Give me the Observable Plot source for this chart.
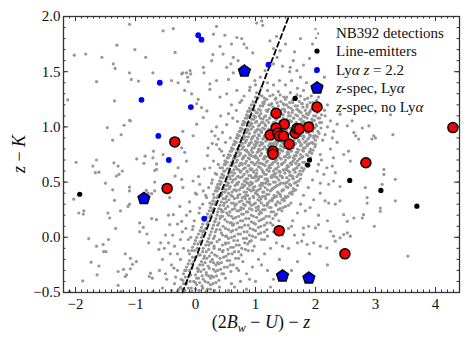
<!DOCTYPE html>
<html><head><meta charset="utf-8">
<script src="https://cdn.jsdelivr.net/npm/d3@7"></script>
<script src="https://cdn.jsdelivr.net/npm/@observablehq/plot@0.6"></script>
<style>body{margin:0;background:#fff}svg{display:block}</style>
</head><body><div id="chart"></div>
<script>
// x tick values and labels
const xTicks = [-2,-1,0,1,2,3,4];
const yTicks = [-0.5,0,0.5,1.0,1.5,2.0];
// dashed selection line
const cutX = [-0.218,1.555];
const cutY = [-0.5,2.0];
// Line-emitters (black)
const lineEmitters = [[-1.93,0.39],[1.66,1.258],[1.90,0.70],[1.87,0.655],[2.57,0.515],[3.09,0.425],[3.69,0.282]];
// Lya z=2.2 (blue)
const lyaZ22 = [[0.045,1.83],[0.10,1.79],[-0.595,1.40],[1.216,1.564],[-0.90,1.245],[-0.077,1.18],[-0.62,0.918],[-0.445,0.70],[0.145,0.17]];
// z-spec, Lya (blue pentagons)
const zspecLya = [[0.815,1.505],[-0.86,0.352],[1.45,-0.35],[1.89,-0.37]];
// z-spec, no Lya (red)
const zspecNoLya = [[-0.345,0.864],[-0.473,0.443],[1.344,1.124],[1.48,1.025],[1.344,0.99],[1.244,0.927],[1.37,0.945],[1.40,0.918],[1.467,0.918],[1.662,0.943],[1.69,0.985],[1.73,0.98],[1.885,1.0],[1.56,0.843],[1.29,0.782],[1.29,0.752],[4.29,0.994],[2.84,0.675],[1.395,0.06],[2.49,-0.15]];
// NB392 detections (grey)
const nb392 = [
[-1.10,1.93],[-1.31,1.74],[-1.01,1.70],[-2.02,1.65],[-1.83,1.66],[-1.56,1.63],[-0.83,1.63],[-1.37,1.57],[-1.34,1.53],[-1.10,1.49],[-0.71,1.49],[-1.07,1.43],[-0.95,1.415],[-1.65,1.41],[-2.13,1.245],[-1.35,1.236],[-1.10,1.06],
[-0.54,1.87],[-0.37,1.89],[-0.34,1.675],[-0.23,1.48],[-0.40,1.42],[-0.29,1.40],[-0.15,1.49],[-0.08,1.48],[-0.13,1.45],[-0.12,1.41],[-0.18,1.33],[0.045,1.25],[0.02,1.21],[0.10,1.175],[0.19,1.145],[0.24,1.34],[0.13,1.54],[0.14,1.49],[0.27,1.60],[0.29,1.655],[0.30,1.84],[0.35,1.91],[0.41,1.73],[0.46,1.66],[0.49,1.83],[0.60,1.75],[0.69,1.81],[0.77,1.80],[0.81,1.75],[0.855,1.715],[0.955,1.67],[1.02,1.94],[1.105,1.96],[1.12,1.92],[0.63,1.63],[0.59,1.57],[0.71,1.60],[0.52,1.54],[0.63,1.49],[0.55,1.43],[0.35,1.42],[0.24,1.39],[-0.065,1.30],[0.41,1.27],[0.52,1.30],[0.69,1.33],[0.77,1.24],[0.91,1.36],[0.99,1.42],[1.08,1.45],[1.16,1.51],[1.30,1.57],[1.36,1.63],[1.41,1.69],[1.30,1.71],[1.24,1.78],[1.63,1.60],[1.58,1.54],[1.69,1.51],[-0.21,1.49],[-0.09,1.51],
[2.47,0.75],[2.58,0.69],[2.67,0.92],[2.78,0.99],[2.89,1.01],[2.97,0.92],[2.94,0.89],[3.0,0.90],[2.72,0.89],[3.25,1.11],[3.29,0.93],[3.14,0.615],[3.14,0.57],[3.33,0.525],[3.11,0.48],[2.83,0.45],[2.86,0.36],[2.86,0.31],[3.08,0.265],[3.08,0.235],[3.33,0.33],[2.78,0.175],[2.80,0.205],[2.47,0.205],[2.41,0.33],[2.33,0.30],[2.22,0.31],[2.16,0.33],[2.08,0.40],[1.97,0.34],[1.91,0.27],[1.83,0.24],[2.53,0.145],[2.64,0.175],[2.55,0.78],[2.28,0.645],[2.19,0.63],[2.14,0.57],[2.33,0.585],[2.30,0.51],[2.22,0.48],[2.41,0.46],[2.08,0.49],[2.05,0.66],[2.08,0.75],[2.25,0.80],[2.36,0.86],[2.28,0.90],[2.16,0.93],[2.30,0.96],[2.36,1.025],[2.53,1.01],[2.61,1.055],[2.64,0.95],[2.25,1.055],[2.16,1.10],[2.41,1.115],[1.91,0.78],[2.0,0.84],[1.97,0.92],
[1.80,0.085],[1.885,0.10],[2.0,0.085],[2.05,0.115],[2.25,0.055],[2.30,0.01],[2.41,-0.005],[2.47,0.025],[2.53,0.04],[2.58,0.01],[2.33,-0.035],[2.19,-0.095],[2.08,-0.08],[1.97,-0.05],[1.86,-0.065],[1.77,-0.035],[2.98,0.10],[3.54,-0.17],[1.80,0.025],
[-1.47,0.994],[-1.38,0.88],[-1.24,0.93],[-1.19,1.015],[-1.085,1.055],[-1.99,0.68],[-1.65,0.70],[-1.71,0.645],[-1.67,0.585],[-1.61,0.59],[-1.36,0.675],[-1.29,0.645],[-1.22,0.60],[-1.275,0.57],[-1.32,0.555],[-1.50,0.49],[-0.98,0.71],[-0.86,0.67],[-0.84,0.735],[-0.71,0.72],[-0.68,0.605],[-0.65,0.665],[-0.68,0.50],[-1.10,0.455],[-1.10,0.42],[-1.38,0.43],[-1.35,0.335],[-2.03,0.345],[-1.945,0.22],[-1.86,0.24],[-1.87,0.21],[-1.46,0.22],[-1.43,0.175],[-1.25,0.24],[-1.125,0.28],[-1.10,0.30],[-0.93,0.13],[-0.73,0.17],[-0.82,0.425],[-0.79,0.40],[-0.73,0.395],[-1.33,0.08],
[-1.78,-0.012],[-1.65,-0.08],[-1.54,-0.065],[-1.53,-0.13],[-1.49,-0.13],[-1.45,-0.02],[-1.74,-0.225],[-1.61,-0.26],[-1.64,-0.34],[-1.88,-0.395],[-1.29,-0.31],[-1.15,-0.34],[-1.17,-0.355],[-1.20,-0.29],[-1.085,-0.285],[-1.05,-0.245],[-0.985,-0.22],[-1.17,-0.15],[-1.085,-0.19],[-1.29,-0.435],[-1.24,-0.49],[-0.93,0.05],[-0.87,0.09],[-0.81,0.03],[-0.78,-0.05],[-0.75,-0.325],[-0.72,-0.37],[-0.77,-0.355],[-0.71,-0.49],[-2.1,-0.49],[-0.61,-0.11],
[-0.21,0.96],[-0.04,0.92],[0.02,1.025],[0.13,1.085],[0.27,0.96],[0.325,0.92],[0.38,0.89],[0.35,0.84],[0.435,0.78],[0.21,0.81],[-0.23,0.81],[-0.18,0.77],[-0.15,0.69],[-0.29,0.63],[-0.34,0.555],[-0.23,0.525],[-0.21,0.45],[-0.04,0.51],[0.07,0.48],[0.02,0.39],[0.13,0.42],[0.185,0.36],[0.24,0.31],[0.07,0.265],[-0.09,0.235],[-0.26,0.28],[-0.43,0.36],[-0.68,0.42],[-0.65,0.615],[-0.54,0.75],[-0.70,0.78],[-0.37,0.205],[-0.23,0.145],[-0.04,0.10],[-0.43,0.115],[-0.65,0.16],[0.27,0.49],[0.35,0.57],[0.41,0.63],[0.49,0.69],[0.30,0.69],[0.24,0.63],[0.38,0.45],[0.435,0.39],[0.30,0.235],[0.325,0.145],[0.46,0.235],
[-0.55,-0.2],[-0.48,-0.38],[-0.42,-0.15],[-0.35,-0.08],[-0.33,-0.36],[-0.28,-0.47],[-0.25,-0.02],[-0.22,0.05],[-0.18,-0.3],[-0.15,-0.42],[-0.4,-0.48],[-0.6,-0.3],[-0.5,0.02],[-0.58,-0.05],[-0.45,0.2],[-0.3,-0.15],[-0.52,-0.1],[-0.36,-0.28],[-0.24,-0.38],[-0.12,-0.12],[-0.08,0.0],[-0.16,0.08],
[0.6,-0.42],[0.72,-0.3],[0.9,-0.38],[1.1,-0.25],[1.3,-0.38],[1.6,-0.3],[1.25,-0.45],[0.95,-0.12],[1.15,-0.02],[1.3,0.05],[1.45,-0.08],[1.6,0.1],[1.7,-0.05],[2.2,-0.25],
[1.02,1.31],[1.11,1.28],[1.2,1.33],[1.29,1.29],[1.38,1.32],[1.47,1.27],[1.58,1.31],[1.69,1.29],[1.8,1.33],[1.93,1.28],
[0.96,1.23],[1.04,1.26],[1.12,1.22],[1.19,1.25],[1.27,1.21],[1.34,1.26],[1.42,1.23],[1.5,1.25],[1.57,1.22],[1.65,1.26],[1.73,1.23],[1.82,1.25],[1.91,1.22],[2.02,1.24],
[0.9,1.17],[0.97,1.2],[1.05,1.16],[1.12,1.19],[1.18,1.15],[1.25,1.2],[1.31,1.17],[1.38,1.19],[1.45,1.16],[1.52,1.2],[1.59,1.17],[1.66,1.19],[1.72,1.15],[1.79,1.18],[1.86,1.2],[1.93,1.16],[2.01,1.19],[2.1,1.17],
[0.85,1.11],[0.91,1.14],[0.97,1.1],[1.03,1.13],[1.09,1.12],[1.15,1.09],[1.2,1.14],[1.26,1.11],[1.32,1.13],[1.37,1.09],[1.43,1.12],[1.49,1.14],[1.55,1.1],[1.61,1.13],[1.67,1.11],[1.73,1.14],[1.79,1.1],[1.85,1.12],[1.91,1.14],[1.97,1.1],[2.03,1.13],[2.1,1.11],
[0.8,1.05],[0.86,1.08],[0.91,1.04],[0.97,1.07],[1.02,1.05],[1.08,1.08],[1.13,1.04],[1.19,1.06],[1.24,1.08],[1.3,1.04],[1.35,1.07],[1.41,1.05],[1.46,1.08],[1.52,1.04],[1.57,1.06],[1.63,1.08],[1.68,1.04],[1.74,1.07],[1.8,1.05],[1.86,1.08],[1.92,1.04],[1.98,1.06],[2.04,1.08],[2.1,1.04],
[0.75,0.99],[0.8,1.02],[0.86,0.98],[0.91,1.01],[0.96,1.0],[1.02,0.97],[1.07,1.02],[1.12,0.99],[1.17,1.01],[1.22,0.98],[1.28,1.02],[1.33,0.99],[1.38,1.01],[1.43,0.97],[1.49,1.0],[1.54,1.02],[1.59,0.98],[1.64,1.01],[1.7,0.99],[1.75,1.02],[1.8,0.98],[1.86,1.0],[1.91,1.02],[1.96,0.98],[2.02,1.01],[2.09,0.99],
[0.7,0.93],[0.75,0.96],[0.8,0.92],[0.85,0.95],[0.9,0.94],[0.95,0.91],[1.0,0.96],[1.05,0.93],[1.1,0.95],[1.15,0.92],[1.2,0.96],[1.25,0.94],[1.3,0.91],[1.35,0.95],[1.4,0.93],[1.45,0.96],[1.5,0.92],[1.55,0.94],[1.6,0.96],[1.65,0.91],[1.7,0.94],[1.75,0.96],[1.8,0.92],[1.85,0.95],[1.9,0.93],[1.95,0.96],[2.0,0.92],[2.06,0.94],
[0.65,0.87],[0.7,0.9],[0.75,0.86],[0.8,0.89],[0.85,0.88],[0.9,0.85],[0.95,0.9],[1.0,0.87],[1.04,0.89],[1.09,0.86],[1.14,0.9],[1.19,0.88],[1.24,0.85],[1.29,0.89],[1.34,0.87],[1.39,0.9],[1.44,0.86],[1.49,0.88],[1.54,0.9],[1.59,0.85],[1.64,0.88],[1.69,0.9],[1.74,0.86],[1.79,0.89],[1.84,0.87],[1.89,0.9],[1.94,0.86],[2.0,0.88],
[0.6,0.81],[0.65,0.84],[0.7,0.8],[0.75,0.83],[0.8,0.82],[0.85,0.79],[0.9,0.84],[0.95,0.81],[1.0,0.83],[1.05,0.8],[1.1,0.84],[1.15,0.82],[1.2,0.79],[1.25,0.83],[1.3,0.81],[1.35,0.84],[1.4,0.8],[1.45,0.82],[1.5,0.84],[1.55,0.79],[1.6,0.82],[1.65,0.84],[1.7,0.8],[1.75,0.83],[1.8,0.81],[1.86,0.84],[1.92,0.8],[1.99,0.82],
[0.55,0.75],[0.6,0.78],[0.65,0.74],[0.7,0.77],[0.75,0.76],[0.8,0.73],[0.85,0.78],[0.9,0.75],[0.95,0.77],[1.0,0.74],[1.05,0.78],[1.1,0.76],[1.15,0.73],[1.2,0.77],[1.25,0.75],[1.3,0.78],[1.35,0.74],[1.4,0.76],[1.45,0.78],[1.5,0.73],[1.55,0.76],[1.6,0.78],[1.65,0.74],[1.7,0.77],[1.75,0.75],[1.8,0.78],[1.87,0.74],[1.94,0.76],
[0.5,0.69],[0.55,0.72],[0.6,0.68],[0.65,0.71],[0.7,0.7],[0.75,0.67],[0.8,0.72],[0.85,0.69],[0.9,0.71],[0.95,0.68],[1.0,0.72],[1.05,0.7],[1.1,0.67],[1.15,0.71],[1.2,0.69],[1.25,0.72],[1.3,0.68],[1.35,0.7],[1.4,0.72],[1.45,0.67],[1.5,0.7],[1.55,0.72],[1.6,0.68],[1.65,0.71],[1.7,0.69],[1.76,0.72],[1.82,0.68],[1.89,0.7],
[0.45,0.63],[0.5,0.66],[0.56,0.62],[0.61,0.65],[0.67,0.64],[0.72,0.61],[0.78,0.66],[0.83,0.63],[0.89,0.65],[0.94,0.62],[1.0,0.66],[1.05,0.64],[1.11,0.61],[1.16,0.65],[1.22,0.63],[1.27,0.66],[1.33,0.62],[1.38,0.64],[1.44,0.66],[1.49,0.61],[1.55,0.64],[1.6,0.66],[1.66,0.62],[1.71,0.65],[1.77,0.63],[1.84,0.66],
[0.44,0.57],[0.49,0.6],[0.55,0.56],[0.6,0.59],[0.65,0.58],[0.7,0.55],[0.76,0.6],[0.81,0.57],[0.86,0.59],[0.92,0.56],[0.97,0.6],[1.02,0.58],[1.07,0.55],[1.13,0.59],[1.18,0.57],[1.23,0.6],[1.28,0.56],[1.34,0.58],[1.39,0.6],[1.44,0.55],[1.49,0.58],[1.55,0.6],[1.6,0.56],[1.66,0.59],[1.72,0.57],[1.79,0.6],
[0.4,0.51],[0.46,0.54],[0.52,0.5],[0.58,0.53],[0.63,0.52],[0.69,0.49],[0.75,0.54],[0.81,0.51],[0.87,0.53],[0.92,0.5],[0.98,0.54],[1.04,0.52],[1.1,0.49],[1.16,0.53],[1.21,0.51],[1.27,0.54],[1.33,0.5],[1.39,0.52],[1.45,0.54],[1.5,0.49],[1.56,0.52],[1.62,0.54],[1.68,0.5],[1.75,0.53],
[0.35,0.45],[0.41,0.48],[0.47,0.44],[0.53,0.47],[0.58,0.46],[0.64,0.43],[0.7,0.48],[0.76,0.45],[0.82,0.47],[0.87,0.44],[0.93,0.48],[0.99,0.46],[1.05,0.43],[1.11,0.47],[1.16,0.45],[1.22,0.48],[1.28,0.44],[1.34,0.46],[1.4,0.48],[1.45,0.43],[1.51,0.46],[1.57,0.48],[1.63,0.44],[1.7,0.47],
[0.3,0.39],[0.36,0.42],[0.43,0.38],[0.49,0.41],[0.55,0.4],[0.62,0.37],[0.68,0.42],[0.74,0.39],[0.81,0.41],[0.87,0.38],[0.93,0.42],[1.0,0.4],[1.06,0.37],[1.12,0.41],[1.19,0.39],[1.25,0.42],[1.31,0.38],[1.38,0.4],[1.44,0.42],[1.5,0.37],[1.57,0.4],[1.64,0.42],
[0.29,0.33],[0.36,0.36],[0.43,0.32],[0.5,0.35],[0.56,0.34],[0.63,0.31],[0.7,0.36],[0.77,0.33],[0.83,0.35],[0.9,0.32],[0.97,0.36],[1.04,0.34],[1.1,0.31],[1.17,0.35],[1.24,0.33],[1.31,0.36],[1.37,0.32],[1.44,0.34],[1.51,0.36],[1.59,0.31],
[0.25,0.27],[0.32,0.3],[0.39,0.26],[0.47,0.29],[0.54,0.28],[0.61,0.25],[0.68,0.3],[0.76,0.27],[0.83,0.29],[0.9,0.26],[0.97,0.3],[1.05,0.28],[1.12,0.25],[1.19,0.29],[1.26,0.27],[1.34,0.3],[1.41,0.26],[1.5,0.28],
[0.2,0.21],[0.28,0.24],[0.36,0.2],[0.44,0.23],[0.52,0.22],[0.6,0.19],[0.69,0.24],[0.77,0.21],[0.85,0.23],[0.93,0.2],[1.01,0.24],[1.1,0.22],[1.18,0.19],[1.26,0.23],[1.35,0.21],[1.44,0.24],
[0.15,0.15],[0.24,0.18],[0.32,0.14],[0.41,0.17],[0.49,0.16],[0.58,0.13],[0.67,0.18],[0.75,0.15],[0.84,0.17],[0.93,0.14],[1.02,0.18],[1.1,0.16],[1.19,0.13],[1.29,0.17],[1.39,0.15],
[0.1,0.09],[0.19,0.12],[0.28,0.08],[0.37,0.11],[0.46,0.1],[0.55,0.07],[0.64,0.12],[0.73,0.09],[0.82,0.11],[0.91,0.08],[1.0,0.12],[1.09,0.1],[1.19,0.07],[1.29,0.11],
[0.05,0.03],[0.14,0.06],[0.24,0.02],[0.33,0.05],[0.43,0.04],[0.52,0.01],[0.62,0.06],[0.71,0.03],[0.81,0.05],[0.9,0.02],[1.0,0.06],[1.09,0.04],[1.2,0.01],
[0.0,-0.03],[0.1,0.0],[0.2,-0.04],[0.3,-0.01],[0.4,-0.02],[0.5,-0.05],[0.6,0.0],[0.7,-0.03],[0.8,-0.01],[0.9,-0.04],[1.0,0.0],[1.1,-0.02],
[-0.05,-0.09],[0.04,-0.06],[0.13,-0.1],[0.22,-0.07],[0.31,-0.08],[0.4,-0.11],[0.5,-0.06],[0.59,-0.09],[0.68,-0.07],[0.77,-0.1],[0.87,-0.06],[0.98,-0.08],
[-0.1,-0.15],[-0.01,-0.12],[0.08,-0.16],[0.18,-0.13],[0.27,-0.14],[0.36,-0.17],[0.46,-0.12],[0.55,-0.15],[0.65,-0.13],[0.76,-0.16],[0.88,-0.12],
[-0.1,-0.21],[0.0,-0.18],[0.1,-0.22],[0.19,-0.19],[0.28,-0.2],[0.37,-0.23],[0.47,-0.18],[0.57,-0.21],[0.67,-0.19],[0.79,-0.22],
[-0.15,-0.27],[-0.06,-0.24],[0.03,-0.28],[0.12,-0.25],[0.21,-0.26],[0.3,-0.29],[0.39,-0.24],[0.48,-0.27],[0.58,-0.25],[0.69,-0.28],
[-0.2,-0.33],[-0.1,-0.3],[0.0,-0.34],[0.09,-0.31],[0.18,-0.32],[0.27,-0.35],[0.37,-0.3],[0.47,-0.33],[0.59,-0.31],
[-0.21,-0.39],[-0.12,-0.36],[-0.03,-0.4],[0.05,-0.37],[0.13,-0.38],[0.21,-0.41],[0.3,-0.36],[0.39,-0.39],[0.5,-0.37],
[-0.25,-0.45],[-0.16,-0.42],[-0.07,-0.46],[0.02,-0.43],[0.11,-0.44],[0.2,-0.47],[0.29,-0.42],[0.4,-0.45],
[-0.3,-0.49],[-0.18,-0.48],[-0.06,-0.49],[0.06,-0.48],[0.18,-0.49],[0.32,-0.48],
[0.93,1.03],[1.08,0.97],[1.22,1.04],[1.36,0.96],[1.51,1.03],[1.66,0.97],[1.81,1.04],
[0.88,0.91],[1.02,0.85],[1.17,0.92],[1.31,0.85],[1.46,0.91],[1.61,0.86],[1.76,0.92],[1.9,0.85],
[0.83,0.79],[0.97,0.73],[1.12,0.8],[1.27,0.73],[1.42,0.79],[1.57,0.73],[1.72,0.79],
[0.77,0.67],[0.92,0.61],[1.07,0.67],[1.22,0.6],[1.37,0.67],[1.52,0.61],[1.67,0.67],
[0.72,0.55],[0.87,0.49],[1.02,0.55],[1.17,0.49],[1.32,0.55],[1.47,0.49],[1.62,0.55],
[0.67,0.43],[0.82,0.37],[0.97,0.43],[1.12,0.37],[1.27,0.43],[1.42,0.37],
[0.6,0.31],[0.75,0.25],[0.9,0.31],[1.05,0.25],[1.2,0.31],
[0.98,1.15],[1.14,1.21],[1.3,1.15],[1.46,1.21],[1.62,1.15],[1.78,1.21],
[0.45,0.19],[0.6,0.13],[0.35,0.07],[0.5,0.01],[0.25,-0.05],[0.4,-0.11],[0.15,-0.17],[0.3,-0.23],[0.05,-0.29],[0.22,-0.35],[0.0,-0.41],[0.12,-0.46],
[0.45,0.95],[0.52,1.02],[0.58,0.9],[0.62,1.08],[0.5,0.86],[0.4,0.8],[0.47,0.74],[0.38,0.66],[0.33,0.58],[0.28,0.52],[0.22,0.45],[0.17,0.38],[0.12,0.3],[0.06,0.22],[-0.02,0.15],[0.68,1.15],[0.74,1.22],[0.81,1.28],[0.6,1.2],[0.55,1.12],[0.7,1.05],[0.12,0.05],[-0.05,0.07],[-0.12,-0.02],[-0.2,-0.1],[-0.25,-0.2],[-0.3,-0.3],[-0.35,-0.42],[-0.4,-0.25],[-0.45,-0.05],[-0.5,-0.33],[-0.55,-0.46],[-0.38,0.02],[-0.3,0.12],[-0.15,0.2],[-0.1,0.32],[0.0,0.4],[0.05,0.55],[0.15,0.62],[0.2,0.74],[0.28,0.85],[0.35,1.0],[0.42,1.1],
[2.15,1.15],[2.2,1.0],[2.12,0.88],[2.1,0.7],[2.03,0.6],[1.95,0.52],[1.88,0.45],[1.8,0.38],[1.75,0.3],[1.7,0.22],[1.62,0.15],[1.55,0.08],[1.45,0.02],[1.35,-0.05],[1.25,-0.1],[1.15,-0.15],[1.05,-0.2],[0.95,-0.27],[0.85,-0.33],[0.75,-0.4],[0.65,-0.45],[0.55,-0.48],[1.65,0.02],[1.55,-0.1],[1.4,-0.2],[1.2,-0.3],[1.0,-0.4],[0.85,-0.47],[1.7,-0.22],[1.9,-0.15],[2.05,0.2],[2.2,0.15],[2.3,0.72],[2.2,1.2],[2.05,1.27],[1.95,1.35],[1.85,1.4],[2.1,1.38],[1.75,1.45],[1.6,1.42],[1.5,1.38],[1.4,1.42],[1.3,1.38],[1.2,1.4],[1.1,1.36],[1.0,1.38],[0.9,1.33],[1.7,1.35],[1.57,1.5],[1.45,1.55],[1.8,1.56],[1.9,1.62],[1.65,1.68],[1.5,1.75],[1.35,1.82],[1.75,1.8],[2.0,1.5],[2.15,1.45],[1.95,1.75],
[1.0,1.27],[1.07,1.29],[1.15,1.26],[1.24,1.28],[1.33,1.25],[1.41,1.29],[1.52,1.27],[1.62,1.24],[1.75,1.28],[1.87,1.26],
[0.93,1.2],[1.0,1.22],[1.08,1.19],[1.15,1.23],[1.22,1.2],[1.29,1.18],[1.36,1.22],[1.48,1.2],[1.55,1.18],[1.62,1.22],[1.7,1.19],[1.77,1.21],[1.86,1.18],[1.96,1.22],[2.06,1.2],
[0.87,1.14],[0.94,1.16],[1.01,1.13],[1.08,1.15],[1.22,1.16],[1.28,1.13],[1.34,1.15],[1.41,1.14],[1.48,1.16],[1.55,1.13],[1.69,1.16],[1.76,1.13],[1.83,1.15],[1.9,1.13],[1.97,1.16],[2.05,1.14],
[0.83,1.08],[0.88,1.1],[0.94,1.07],[1.0,1.09],[1.06,1.1],[1.12,1.07],[1.17,1.1],[1.23,1.08],[1.29,1.1],[1.34,1.07],[1.4,1.09],[1.46,1.11],[1.52,1.07],[1.58,1.1],[1.64,1.08],[1.7,1.1],[1.76,1.07],[1.82,1.09],[1.88,1.11],[1.94,1.07],[2.0,1.1],[2.07,1.08],
[0.78,1.02],[0.83,1.04],[0.89,1.01],[0.94,1.03],[1.0,1.04],[1.05,1.01],[1.1,1.04],[1.16,1.02],[1.27,1.01],[1.32,1.04],[1.38,1.02],[1.44,1.04],[1.49,1.01],[1.55,1.03],[1.6,1.05],[1.71,1.02],[1.77,1.04],[1.83,1.01],[1.89,1.03],[1.95,1.05],[2.01,1.02],[2.07,1.04],
[0.73,0.96],[0.78,0.98],[0.83,0.95],[0.88,0.97],[0.93,0.98],[0.99,0.95],[1.04,0.98],[1.1,0.96],[1.15,0.98],[1.2,0.95],[1.25,0.97],[1.31,0.99],[1.41,0.98],[1.46,0.95],[1.52,0.97],[1.57,0.99],[1.62,0.95],[1.67,0.97],[1.73,0.99],[1.78,0.96],[1.83,0.98],[1.88,0.95],[1.94,0.97],[1.99,0.99],[2.04,0.96],
[0.68,0.9],[0.73,0.92],[0.78,0.89],[0.83,0.91],[0.93,0.89],[0.98,0.92],[1.03,0.9],[1.07,0.92],[1.12,0.89],[1.22,0.91],[1.27,0.89],[1.32,0.92],[1.37,0.9],[1.42,0.88],[1.52,0.91],[1.57,0.89],[1.62,0.92],[1.67,0.9],[1.72,0.88],[1.81,0.91],[1.87,0.89],[1.92,0.92],[1.97,0.9],[2.03,0.91],
[0.63,0.84],[0.68,0.86],[0.73,0.83],[0.78,0.85],[0.83,0.86],[0.88,0.83],[0.93,0.86],[0.98,0.84],[1.03,0.86],[1.07,0.83],[1.12,0.85],[1.17,0.87],[1.22,0.83],[1.27,0.85],[1.37,0.86],[1.42,0.83],[1.47,0.85],[1.52,0.87],[1.57,0.83],[1.67,0.85],[1.72,0.87],[1.77,0.84],[1.82,0.86],[1.87,0.83],[1.96,0.85],
[0.58,0.78],[0.63,0.8],[0.68,0.77],[0.73,0.79],[0.78,0.8],[0.88,0.77],[0.93,0.79],[0.98,0.81],[1.03,0.77],[1.08,0.79],[1.18,0.8],[1.23,0.78],[1.28,0.8],[1.33,0.77],[1.38,0.79],[1.48,0.81],[1.53,0.77],[1.58,0.79],[1.63,0.81],[1.68,0.77],[1.78,0.79],[1.83,0.81],[1.9,0.77],[1.96,0.79],
[0.53,0.72],[0.58,0.74],[0.63,0.71],[0.68,0.73],[0.73,0.74],[0.78,0.71],[0.83,0.74],[0.88,0.72],[0.93,0.74],[1.03,0.72],[1.08,0.74],[1.13,0.71],[1.18,0.73],[1.23,0.75],[1.33,0.72],[1.38,0.74],[1.43,0.71],[1.48,0.73],[1.53,0.75],[1.63,0.72],[1.68,0.74],[1.73,0.71],[1.79,0.73],[1.85,0.75],[1.92,0.72],
[0.48,0.66],[0.53,0.68],[0.58,0.65],[0.63,0.67],[0.68,0.68],[0.73,0.65],[0.83,0.67],[0.88,0.65],[0.93,0.68],[0.98,0.66],[1.03,0.68],[1.13,0.66],[1.18,0.68],[1.23,0.65],[1.28,0.67],[1.33,0.69],[1.43,0.66],[1.48,0.68],[1.53,0.65],[1.58,0.67],[1.63,0.69],[1.73,0.66],[1.79,0.68],[1.86,0.65],
[0.47,0.6],[0.53,0.62],[0.58,0.59],[0.64,0.61],[0.69,0.62],[0.75,0.59],[0.8,0.62],[0.86,0.6],[0.91,0.62],[0.97,0.59],[1.02,0.61],[1.08,0.63],[1.13,0.59],[1.19,0.61],[1.25,0.63],[1.3,0.6],[1.35,0.62],[1.41,0.59],[1.46,0.61],[1.52,0.63],[1.57,0.59],[1.63,0.61],[1.69,0.63],[1.74,0.6],[1.81,0.62],
[0.42,0.54],[0.47,0.56],[0.52,0.53],[0.57,0.55],[0.62,0.56],[0.67,0.53],[0.78,0.55],[0.84,0.53],[0.89,0.56],[0.94,0.54],[1.0,0.56],[1.05,0.53],[1.1,0.55],[1.15,0.57],[1.2,0.53],[1.26,0.55],[1.31,0.57],[1.36,0.54],[1.41,0.56],[1.52,0.54],[1.57,0.56],[1.63,0.53],[1.69,0.55],[1.76,0.57],
[0.37,0.48],[0.43,0.5],[0.49,0.47],[0.55,0.49],[0.61,0.5],[0.66,0.47],[0.72,0.5],[0.78,0.48],[0.84,0.5],[0.9,0.47],[0.95,0.49],[1.01,0.51],[1.07,0.47],[1.13,0.49],[1.19,0.51],[1.24,0.48],[1.3,0.5],[1.36,0.47],[1.42,0.49],[1.53,0.5],[1.59,0.47],[1.65,0.49],[1.72,0.51],
[0.33,0.42],[0.39,0.44],[0.45,0.41],[0.51,0.43],[0.56,0.44],[0.61,0.41],[0.73,0.43],[0.79,0.45],[0.85,0.41],[0.9,0.43],[0.96,0.45],[1.02,0.42],[1.08,0.44],[1.14,0.41],[1.2,0.43],[1.31,0.45],[1.37,0.41],[1.47,0.43],[1.54,0.45],[1.6,0.41],[1.67,0.43],
[0.31,0.36],[0.38,0.38],[0.46,0.35],[0.52,0.37],[0.59,0.38],[0.65,0.35],[0.71,0.38],[0.78,0.36],[0.84,0.38],[0.9,0.35],[0.96,0.37],[1.03,0.39],[1.09,0.35],[1.16,0.37],[1.22,0.39],[1.28,0.35],[1.35,0.37],[1.41,0.39],[1.47,0.35],[1.54,0.37],[1.61,0.39],
[0.27,0.3],[0.34,0.32],[0.41,0.29],[0.48,0.31],[0.52,0.32],[0.66,0.29],[0.73,0.32],[0.8,0.3],[0.86,0.32],[0.93,0.29],[1.0,0.31],[1.07,0.33],[1.14,0.29],[1.21,0.31],[1.28,0.33],[1.34,0.29],[1.41,0.31],[1.48,0.33],[1.55,0.29],
[0.23,0.24],[0.3,0.26],[0.37,0.23],[0.43,0.25],[0.5,0.26],[0.57,0.23],[0.65,0.26],[0.72,0.24],[0.8,0.26],[0.87,0.23],[0.94,0.25],[1.01,0.27],[1.08,0.23],[1.16,0.25],[1.23,0.27],[1.3,0.23],[1.38,0.25],[1.46,0.27],
[0.18,0.18],[0.26,0.2],[0.34,0.17],[0.42,0.19],[0.55,0.2],[0.63,0.17],[0.72,0.19],[0.8,0.21],[0.89,0.17],[0.97,0.19],[1.06,0.21],[1.14,0.17],[1.23,0.19],[1.33,0.2],
[0.12,0.12],[0.21,0.14],[0.3,0.11],[0.39,0.13],[0.53,0.14],[0.62,0.11],[0.7,0.13],[0.79,0.15],[0.88,0.11],[0.97,0.13],[1.06,0.15],[1.15,0.11],[1.25,0.13],
[0.08,0.06],[0.17,0.08],[0.26,0.05],[0.41,0.07],[0.5,0.08],[0.59,0.05],[0.68,0.07],[0.77,0.09],[0.86,0.05],[0.96,0.07],[1.05,0.09],[1.15,0.05],
[0.02,0.0],[0.12,0.02],[0.22,-0.01],[0.32,0.01],[0.45,0.02],[0.55,-0.01],[0.65,0.01],[0.75,0.03],[0.85,-0.01],[0.95,0.01],[1.05,0.03],
[-0.02,-0.06],[0.08,-0.04],[0.17,-0.07],[0.27,-0.05],[0.36,-0.04],[0.45,-0.07],[0.55,-0.05],[0.64,-0.03],[0.73,-0.07],[0.82,-0.05],[0.93,-0.03],
[-0.06,-0.12],[0.03,-0.1],[0.12,-0.13],[0.22,-0.11],[0.31,-0.1],[0.45,-0.13],[0.54,-0.11],[0.63,-0.09],[0.72,-0.13],[0.83,-0.11],
[-0.05,-0.18],[0.05,-0.16],[0.14,-0.19],[0.23,-0.17],[0.32,-0.16],[0.41,-0.19],[0.51,-0.17],[0.61,-0.15],[0.72,-0.19],
[-0.12,-0.24],[-0.03,-0.22],[0.07,-0.25],[0.16,-0.23],[0.25,-0.22],[0.34,-0.25],[0.43,-0.23],[0.53,-0.21],[0.63,-0.25],
[-0.16,-0.3],[-0.06,-0.28],[0.04,-0.31],[0.14,-0.29],[0.23,-0.28],[0.33,-0.31],[0.42,-0.29],[0.53,-0.27],
[-0.17,-0.36],[-0.08,-0.34],[0.02,-0.37],[0.11,-0.35],[0.18,-0.34],[0.25,-0.37],[0.35,-0.35],[0.44,-0.33],
[-0.2,-0.42],[-0.09,-0.4],[0.07,-0.41],[0.16,-0.4],[0.25,-0.43],[0.34,-0.41],
[-0.22,-0.47],[-0.12,-0.46],[0.0,-0.47],[0.12,-0.46],[0.25,-0.47]
];

const W = 469, H = 342, mL = 63, mR = 10, mT = 16, mB = 50;
const pw = W - mL - mR, ph = H - mT - mB;
const FONT = "Liberation Serif, DejaVu Serif, serif";
const minus = s => String(s).replace("-", "\u2212");

const pentagon = {
  draw(ctx, size) {
    const R = Math.sqrt(size / Math.PI) * 1.18;
    for (let i = 0; i < 5; i++) {
      const a = -Math.PI / 2 + i * 2 * Math.PI / 5;
      const px = R * Math.cos(a), py = R * Math.sin(a);
      if (i === 0) ctx.moveTo(px, py); else ctx.lineTo(px, py);
    }
    ctx.closePath();
  }
};

const xMinor = d3.range(-22, 45).map(i => i / 10);
const yMinor = d3.range(-5, 21).map(i => i / 10);
const tickStroke = "#333";

const chart = Plot.plot({
  width: W, height: H,
  marginLeft: mL, marginRight: mR, marginTop: mT, marginBottom: mB,
  x: {domain: [-2.2, 4.4]},
  y: {domain: [-0.5, 2.0]},
  style: {fontFamily: FONT, fontSize: "14px", background: "#fff", color: "#111"},
  marks: [
    Plot.dot(nb392, {x: d => d[0], y: d => d[1], r: 1.6, fill: "#979797", stroke: "none"}),
    Plot.line(cutX.map((x, i) => ({x, y: cutY[i]})), {x: "x", y: "y", stroke: "#000", strokeWidth: 1.8, strokeDasharray: "5,3.5"}),
    Plot.dot(lineEmitters, {x: d => d[0], y: d => d[1], r: 2.6, fill: "#000", stroke: "none"}),
    Plot.dot(lyaZ22, {x: d => d[0], y: d => d[1], r: 2.9, fill: "#0000ff", stroke: "none"}),
    Plot.dot(zspecLya, {x: d => d[0], y: d => d[1], r: 5.2, symbol: pentagon, fill: "#0000ff", stroke: "#000", strokeWidth: 1.5}),
    Plot.dot(zspecNoLya, {x: d => d[0], y: d => d[1], r: 5, fill: "#ff0000", stroke: "#000", strokeWidth: 1.5}),
    // inward ticks on all four sides
    Plot.tickX(xTicks, {x: d => d, insetTop: ph - 5, stroke: tickStroke}),
    Plot.tickX(xTicks, {x: d => d, insetBottom: ph - 5, stroke: tickStroke}),
    Plot.tickX(xMinor, {x: d => d, insetTop: ph - 2.5, stroke: tickStroke}),
    Plot.tickX(xMinor, {x: d => d, insetBottom: ph - 2.5, stroke: tickStroke}),
    Plot.tickY(yTicks, {y: d => d, insetRight: pw - 5, stroke: tickStroke}),
    Plot.tickY(yTicks, {y: d => d, insetLeft: pw - 5, stroke: tickStroke}),
    Plot.tickY(yMinor, {y: d => d, insetRight: pw - 2.5, stroke: tickStroke}),
    Plot.tickY(yMinor, {y: d => d, insetLeft: pw - 2.5, stroke: tickStroke}),
    Plot.frame({stroke: "#333", strokeWidth: 1.3}),
    Plot.axisX({ticks: xTicks, tickSize: 0, tickPadding: 6, label: null, fontSize: 15, tickFormat: d => minus(d)}),
    Plot.axisY({ticks: yTicks, tickSize: 0, tickPadding: 3, label: null, fontSize: 15, tickFormat: d => minus(d.toFixed(1))})
  ]
});

document.getElementById("chart").appendChild(chart);
const svg = d3.select(chart);
svg.style("font-family", FONT);
svg.selectAll("text").attr("font-family", FONT);

// axis labels with math styling
const xl = svg.append("text").attr("x", mL + pw / 2).attr("y", 328).attr("text-anchor", "middle")
  .attr("font-family", FONT).attr("font-size", 18).attr("fill", "#111");
xl.append("tspan").text("(2");
xl.append("tspan").attr("font-style", "italic").text("B");
xl.append("tspan").attr("font-style", "italic").attr("font-size", 12).attr("dy", 4).text("w");
xl.append("tspan").attr("dy", -4).text(" \u2212 ");
xl.append("tspan").attr("font-style", "italic").text("U");
xl.append("tspan").text(") \u2212 ");
xl.append("tspan").attr("font-style", "italic").text("z");

const yl = svg.append("text").attr("transform", `translate(25,${mT + ph / 2}) rotate(-90)`).attr("text-anchor", "middle")
  .attr("font-family", FONT).attr("font-size", 18).attr("fill", "#111");
yl.append("tspan").attr("font-style", "italic").text("z");
yl.append("tspan").text(" \u2212 ");
yl.append("tspan").attr("font-style", "italic").text("K");

// legend
const lg = svg.append("g").attr("font-family", FONT).attr("font-size", 15).attr("fill", "#111").attr("text-anchor", "start");
const rows = [33, 51, 70, 88, 107];
const mx = 317, tx = 336;
[[315.5, 29], [318, 33.5], [316, 38]].forEach(([a, b]) => lg.append("circle").attr("cx", a).attr("cy", b).attr("r", 1.2).attr("fill", "#979797"));
lg.append("circle").attr("cx", mx).attr("cy", rows[1]).attr("r", 2.6).attr("fill", "#000");
lg.append("circle").attr("cx", mx).attr("cy", rows[2]).attr("r", 2.9).attr("fill", "#0000ff");
lg.append("path").attr("transform", `translate(${mx},${rows[3]})`).attr("d", d3.symbol(pentagon, Math.PI * 5.2 * 5.2)()).attr("fill", "#0000ff").attr("stroke", "#000").attr("stroke-width", 1.5);
lg.append("circle").attr("cx", mx).attr("cy", rows[4]).attr("r", 5).attr("fill", "#ff0000").attr("stroke", "#000").attr("stroke-width", 1.5);
function legendText(i, parts) {
  const t = lg.append("text").attr("x", tx).attr("y", rows[i] + 5).attr("text-anchor", "start");
  parts.forEach(([s, it]) => { const sp = t.append("tspan").text(s); if (it) sp.attr("font-style", "italic"); });
}
legendText(0, [["NB392 detections", false]]);
legendText(1, [["Line-emitters", false]]);
legendText(2, [["Ly", false], ["α", true], [" ", false], ["z", true], [" = 2.2", false]]);
legendText(3, [["z", true], ["-spec, Ly", false], ["α", true]]);
legendText(4, [["z", true], ["-spec, no Ly", false], ["α", true]]);
</script></body></html>
